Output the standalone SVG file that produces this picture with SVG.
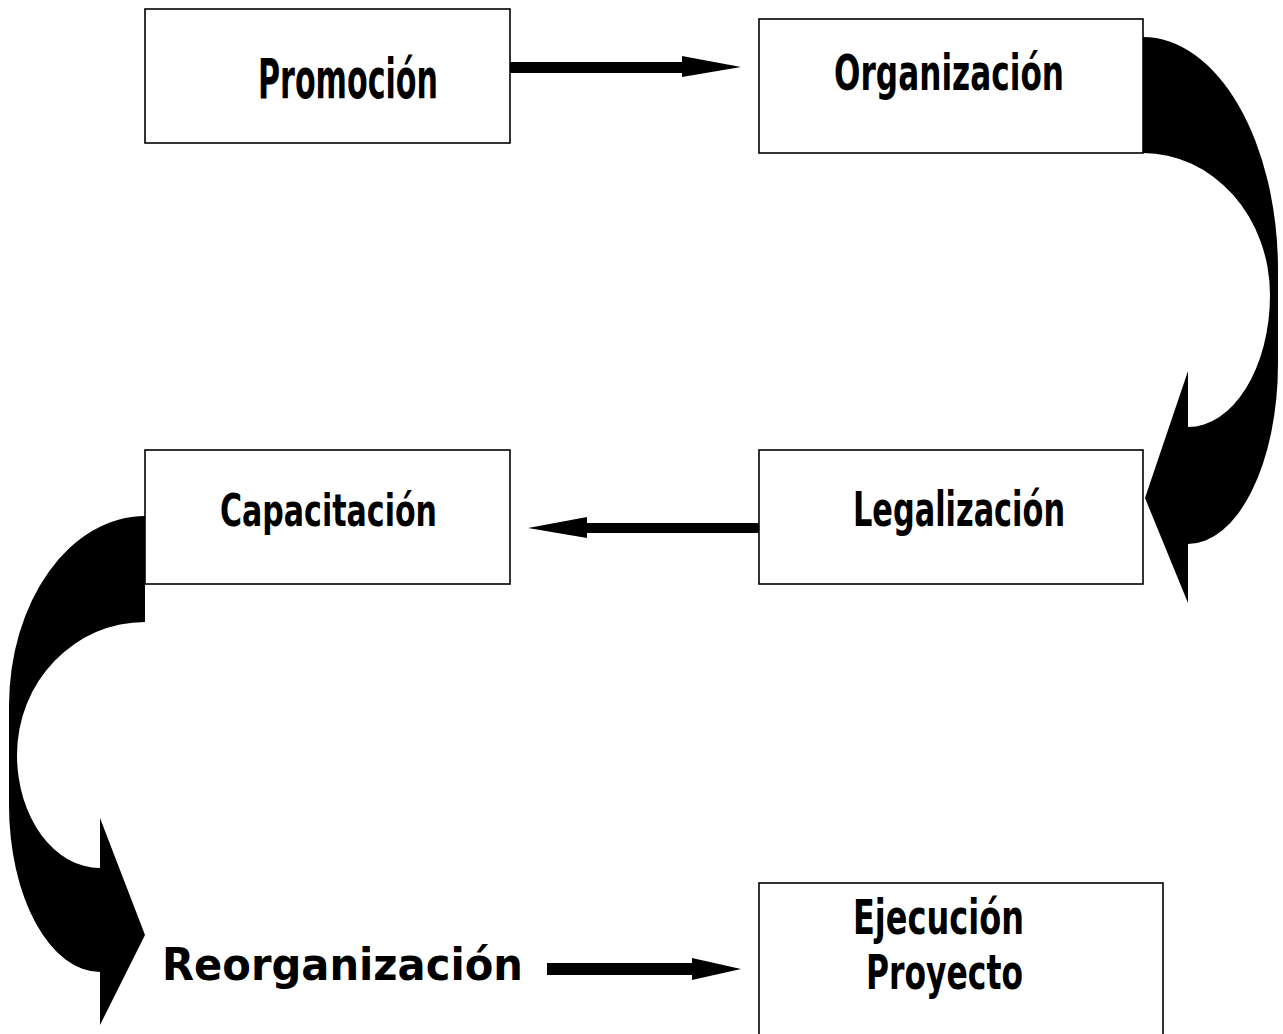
<svg xmlns="http://www.w3.org/2000/svg" width="1283" height="1034" viewBox="0 0 1283 1034">
<style>
.box{fill:#fff;stroke:#000;stroke-width:1.6}
.lbl{font-family:"DejaVu Sans","Liberation Sans",sans-serif;font-weight:bold;fill:#000}
.conn{fill:#000;stroke:none}
</style>
<rect width="1283" height="1034" fill="#fff"/>
<g id="nodes">
<g id="promocion">
<rect class="box" x="145" y="9" width="365" height="134"/>
<text class="lbl" x="258" y="98" font-size="56" textLength="180" lengthAdjust="spacingAndGlyphs">Promoción</text>
</g>
<g id="organizacion">
<rect class="box" x="759" y="19" width="384" height="134"/>
<text class="lbl" x="834" y="90" font-size="50" textLength="230" lengthAdjust="spacingAndGlyphs">Organización</text>
</g>
<g id="legalizacion">
<rect class="box" x="759" y="450" width="384" height="134"/>
<text class="lbl" x="853" y="526" font-size="48" textLength="212" lengthAdjust="spacingAndGlyphs">Legalización</text>
</g>
<g id="capacitacion">
<rect class="box" x="145" y="450" width="365" height="134"/>
<text class="lbl" x="220" y="526" font-size="45" textLength="217" lengthAdjust="spacingAndGlyphs">Capacitación</text>
</g>
<g id="reorganizacion">
<text class="lbl" x="162" y="980" font-size="45" textLength="361" lengthAdjust="spacingAndGlyphs">Reorganización</text>
</g>
<g id="ejecucion">
<rect class="box" x="759" y="883" width="404" height="200"/>
<text class="lbl" x="853" y="934" font-size="48" textLength="171" lengthAdjust="spacingAndGlyphs">Ejecución</text>
<text class="lbl" x="866" y="989" font-size="48" textLength="157" lengthAdjust="spacingAndGlyphs">Proyecto</text>
</g>
</g>
<g id="connectors">
<g id="promocion-organizacion">
<rect class="conn" x="510" y="62" width="173" height="11"/>
<polygon class="conn" points="682,56 741,67 682,77"/>
</g>
<g id="organizacion-legalizacion">
<path class="conn" d="M1143,37 A135,233 0 0 1 1278,270 L1278,364 A90,180 0 0 1 1188,544 L1188,603 L1145,498 L1188,371 L1188,427 A82,132 0 0 0 1270,295 A127,142 0 0 0 1143,153 Z"/>
</g>
<g id="legalizacion-capacitacion">
<rect class="conn" x="586" y="523" width="173" height="10"/>
<polygon class="conn" points="587,517 528,528 587,538"/>
</g>
<g id="capacitacion-reorganizacion">
<path class="conn" d="M145,516 A136,190 0 0 0 9,706 L9,805 A91,167 0 0 0 100,972 L100,1025 L145,935 L100,818 L100,868 A83,113 0 0 1 17,755 A128,133 0 0 1 145,622 Z"/>
</g>
<g id="reorganizacion-ejecucion">
<rect class="conn" x="547" y="963" width="146" height="12"/>
<polygon class="conn" points="692,958 741,969 692,980"/>
</g>
</g>
</svg>
